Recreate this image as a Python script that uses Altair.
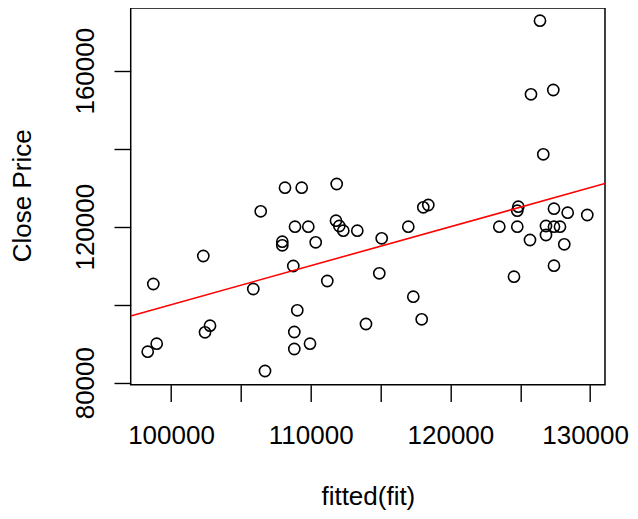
import altair as alt
import pandas as pd

# Data
fitted = [126413, 125769, 127365, 126649, 108160, 109356, 111861, 106421, 127415, 124788,
          124860, 128396, 129799, 108876, 109828, 111811, 112047, 112333, 113335, 116986,
          118060, 118418, 123500, 124788, 126843, 127415, 127845, 126843, 125697, 128152,
          107967, 107967, 110358, 115082, 102312, 108754, 114910, 111188, 127415, 124552,
          98733, 105891, 117344, 109040, 117945, 113958, 102434, 102792, 108826, 98332,
          98976, 108826, 109950, 106729]
close = [172817, 153946, 155048, 138562, 129998, 130000, 130947, 123947, 124614, 124101,
         125126, 123588, 122998, 119998, 120000, 121537, 120178, 118973, 118973, 120000,
         124973, 125562, 120000, 120000, 120178, 120000, 120000, 117870, 116588, 115486,
         116152, 115229, 115999, 117024, 112486, 109922, 108050, 106076, 109999, 107178,
         105307, 104025, 102050, 98563, 96256, 95051, 92923, 94615, 92999, 87948,
         90000, 88641, 90000, 83000]

x_ticks = [100000, 105000, 110000, 115000, 120000, 125000, 130000]
y_ticks = [80000, 100000, 120000, 140000, 160000]
x_domain = [97115, 131067]
y_domain = [79487, 176077]
abline_intercept = 0
abline_slope = 1

df = pd.DataFrame({"fitted": fitted, "close": close})
line_df = pd.DataFrame({"fitted": x_domain})

FONT = "Liberation Sans"
W, H = 474.3, 376.7

xs = alt.Scale(domain=x_domain, nice=False, zero=False)
ys = alt.Scale(domain=y_domain, nice=False, zero=False)

x_axis = alt.Axis(
    values=x_ticks, format="d",
    labelExpr="datum.value % 10000 == 0 ? datum.label : ''",
    title="fitted(fit)", domain=False, grid=False,
    tickSize=16.7, tickWidth=1.4, tickColor="black",
    labelFont=FONT, labelFontSize=26, labelColor="black",
    labelBaseline="alphabetic", labelPadding=42, labelOverlap=False, labelFlush=False,
    labelOffset={"condition": {"test": "datum.value == 130000", "value": -5}, "value": 0},
    titleFont=FONT, titleFontSize=26, titleFontWeight="normal", titleColor="black",
    titleBaseline="alphabetic", titleAlign="center", titleX=W / 2, titleY=120.3,
)
y_axis = alt.Axis(
    values=y_ticks, format="d",
    labelExpr="datum.value % 40000 == 0 ? datum.label : ''",
    title="Close Price", domain=False, grid=False,
    tickSize=16.7, tickWidth=1.4, tickColor="black",
    labelFont=FONT, labelFontSize=26, labelColor="black",
    labelAngle=270, labelAlign="center", labelBaseline="alphabetic",
    labelPadding=20.7, labelOverlap=False, labelFlush=False,
    titleFont=FONT, titleFontSize=26, titleFontWeight="normal", titleColor="black",
    titleAngle=270, titleAlign="center", titleBaseline="alphabetic",
    titleX=-100.7, titleY=187.3,
)

points = alt.Chart(df).mark_point(
    shape="circle", filled=False, size=125, strokeWidth=1.6, color="black", opacity=1
).encode(
    x=alt.X("fitted:Q", scale=xs, axis=x_axis),
    y=alt.Y("close:Q", scale=ys, axis=y_axis),
)

line = alt.Chart(line_df).transform_calculate(
    close=f"{abline_intercept} + {abline_slope} * datum.fitted"
).mark_line(color="#FF0000", strokeWidth=1.6, clip=True).encode(
    x=alt.X("fitted:Q", scale=xs, axis=x_axis),
    y=alt.Y("close:Q", scale=ys, axis=y_axis),
)

chart = alt.layer(points, line).properties(
    width=W, height=H,
    autosize=alt.AutoSizeParams(type="none"),
    padding={"left": 122.7, "top": 0, "right": 24, "bottom": 128},
).configure(
    background="white",
    view=alt.ViewConfig(stroke="black", strokeWidth=1.5, strokeOpacity=1),
)

chart.save("out.html", embed_options={"renderer": "svg", "actions": False})
